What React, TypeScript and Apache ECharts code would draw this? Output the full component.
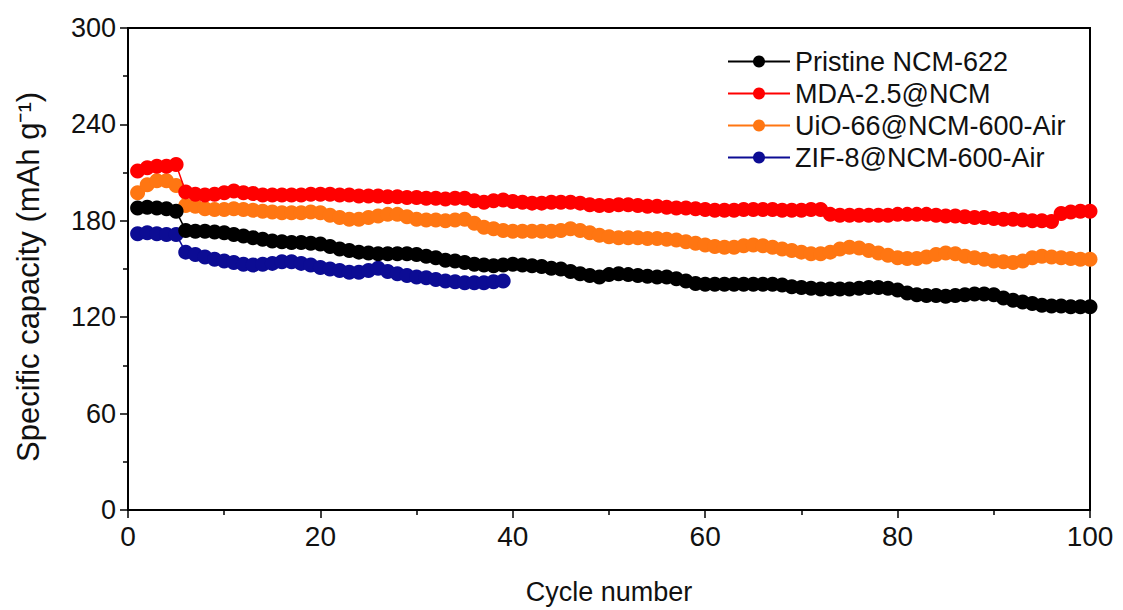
import React, { useEffect, useRef } from "react";
import * as echarts from "echarts";

const seriesNames = ["Pristine NCM-622", "MDA-2.5@NCM", "UiO-66@NCM-600-Air", "ZIF-8@NCM-600-Air"];
const seriesColors = ["#000000", "#ff0000", "#ff7612", "#0c0c94"];

const pristine = [
  188, 188.5, 188, 187.5, 186,
  174, 173.5, 173.5, 173, 172.5,
  171.5, 170.5, 169.5, 168.5, 167.5,
  167, 166.5, 166.5, 166, 165.5,
  164, 162.5, 161.5, 160.5, 160,
  159.5, 159.5, 159.5, 159.5, 159,
  158, 157, 155.5, 155, 154,
  153, 152.5, 152, 152.5, 153,
  152.5, 152, 151.5, 150.5, 150,
  148.5, 147, 146, 145, 146.5,
  147, 146.5, 146, 145.5, 145,
  145, 144, 142.5, 141, 140.5,
  140.5, 140.5, 140.5, 140.5, 140.5,
  140.5, 140.5, 140, 139, 138.5,
  138, 137.5, 137.5, 137.5, 137.5,
  138, 138.5, 138.5, 138, 137,
  135, 134, 133.5, 133.5, 133,
  133.5, 134, 134.5, 134.5, 134,
  132, 130.5, 129.5, 128.5, 127.5,
  127, 127, 126.5, 126.5, 126.5,
];

const mda = [
  211, 213, 214, 214, 215,
  198, 196.5, 196, 196.5, 197.5,
  198.5, 197.5, 197, 196, 196,
  196, 196, 196, 196.5, 196.5,
  196.5, 196, 196, 195.5, 195.5,
  195.5, 195, 195, 194.5, 194.5,
  194, 194, 193.5, 194, 194,
  192.5, 191.5, 192.5, 193, 192,
  191.5, 191, 191, 191.5, 191.5,
  191.5, 191, 190, 189.5, 189.5,
  190, 190, 189.5, 189, 189,
  188.5, 188, 188, 187.5, 187,
  186.5, 186.5, 186.5, 187, 187,
  187, 187, 186.5, 186.5, 186.5,
  187, 187, 184, 183.5, 183.5,
  183.5, 183.5, 183.5, 183.5, 184,
  184, 184, 184, 183.5, 183,
  183, 182.5, 182, 182, 181.5,
  181, 181, 180.5, 180, 180,
  179.5, 184.5, 185.5, 186, 186,
];

const uio = [
  197.5, 202.5, 205, 205, 202,
  189.5, 189, 187.5, 187, 187,
  187.5, 187, 186.5, 186, 185.5,
  185, 185, 185, 185.5, 185,
  183.5, 182, 181, 181, 182,
  183, 184, 184, 182.5, 181,
  180.5, 180.5, 180, 180.5, 181,
  178.5, 176, 175, 174, 173.5,
  173.5, 173.5, 173.5, 173.5, 174,
  175, 174, 172.5, 171, 170,
  169.5, 169.5, 169.5, 169, 169,
  168.5, 168, 167, 166, 165,
  164, 163.5, 163.5, 164.5, 165,
  164.5, 163.5, 162.5, 161.5, 160.5,
  159.5, 159.5, 160.5, 162.5, 163.5,
  163, 161.5, 160, 158.5, 157,
  156.5, 156.5, 157.5, 159, 160,
  159.5, 158, 157, 156, 155,
  154.5, 154, 155, 157, 158,
  157.5, 157, 156.5, 156, 156,
];

const zif = [
  172, 172.5, 172, 171.5, 171.5,
  160.5, 159, 157.5, 156, 155,
  154, 153, 152.5, 153, 153.5,
  154.5, 154.5, 153.5, 152.5, 151,
  150, 149, 148, 148, 149,
  150.5, 148.5, 147, 146, 145,
  144.5, 143.5, 142.5, 142, 141.5,
  141.5, 141.5, 142, 142.5,
];

const allData = [pristine, mda, uio, zif];
const FONT = "Liberation Sans, Arial, sans-serif";

export default function App() {
  const ref = useRef<HTMLDivElement>(null);
  useEffect(() => {
    if (!ref.current) return;
    const chart = echarts.init(ref.current, null, { renderer: "svg" });
    chart.setOption({
      animation: false,
      backgroundColor: "#ffffff",
      grid: {
        left: 128,
        right: 33,
        top: 28,
        bottom: 98,
        show: true,
        borderColor: "#000",
        borderWidth: 2,
        backgroundColor: "transparent",
      },
      legend: {
        show: true,
        orient: "vertical",
        left: 722,
        top: 43,
        itemWidth: 62,
        itemHeight: 15,
        itemGap: 5,
        data: seriesNames,
        textStyle: { fontFamily: FONT, fontSize: 27, color: "#111" },
      },
      xAxis: {
        type: "value",
        min: 0,
        max: 100,
        interval: 20,
        name: "Cycle number",
        nameLocation: "middle",
        nameGap: 68,
        nameTextStyle: { fontFamily: FONT, fontSize: 27, color: "#111" },
        axisLine: { show: true, lineStyle: { color: "#000", width: 2 } },
        axisTick: { show: true, inside: false, length: 8, lineStyle: { color: "#000", width: 1.5 } },
        minorTick: { show: true, splitNumber: 2, length: 5, lineStyle: { color: "#000", width: 1.5 } },
        splitLine: { show: false },
        axisLabel: { fontFamily: FONT, fontSize: 28, color: "#111", margin: 12 },
      },
      yAxis: {
        type: "value",
        min: 0,
        max: 300,
        interval: 60,
        name: "Specific capacity (mAh g⁻¹)",
        nameLocation: "middle",
        nameGap: 84,
        nameTextStyle: { fontFamily: FONT, fontSize: 31, color: "#111", padding: [0, 16, 0, 0] },
        axisLine: { show: true, lineStyle: { color: "#000", width: 2 } },
        axisTick: { show: true, inside: false, length: 8, lineStyle: { color: "#000", width: 1.5 } },
        minorTick: { show: true, splitNumber: 2, length: 5, lineStyle: { color: "#000", width: 1.5 } },
        splitLine: { show: false },
        axisLabel: { fontFamily: FONT, fontSize: 27, color: "#111", margin: 12 },
      },
      series: allData.map((arr, i) => ({
        name: seriesNames[i],
        type: "line",
        data: arr.map((v, j) => [j + 1, v]),
        symbol: "circle",
        symbolSize: 15,
        showSymbol: true,
        color: seriesColors[i],
        itemStyle: { color: seriesColors[i] },
        lineStyle: { color: seriesColors[i], width: 1.5 },
        z: 10 - i,
      })),
    });
    return () => chart.dispose();
  }, []);
  return <div ref={ref} style={{ width: 1123, height: 610, position: "absolute", left: 0, top: 0 }} />;
}
